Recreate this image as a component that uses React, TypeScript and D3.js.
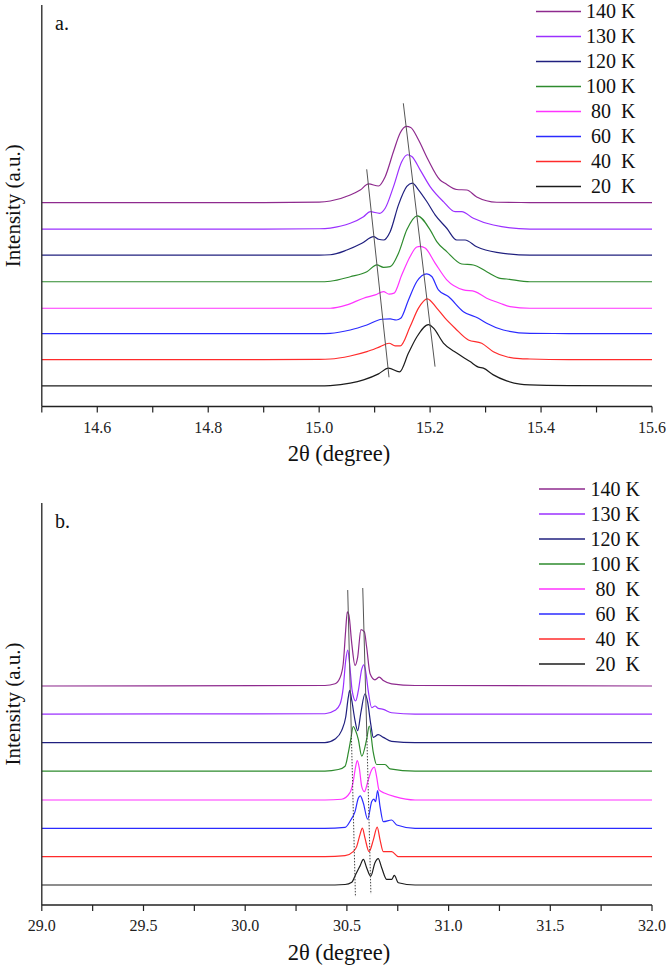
import React from "react";
import * as d3 from "d3";

type Pt = [number, number];

// Temperatures (bottom curve first) and colours
const temps = ["20  K", "40  K", "60  K", "80  K", "100 K", "120 K", "130 K", "140 K"];
const colors = ["#1c1c1c", "#ff2b2b", "#2b2bff", "#ff33ff", "#2e8b2e", "#20207f", "#9b30ff", "#8e2a8e"];

// ---------- Panel a (14.5 - 15.6 deg) ----------
const aTicks = [14.5, 14.6, 14.7, 14.8, 14.9, 15.0, 15.1, 15.2, 15.3, 15.4, 15.5, 15.6];
const aLabels = [14.6, 14.8, 15.0, 15.2, 15.4, 15.6];
const aOffsets = [20.5, 46.8, 72.7, 97.9, 124.3, 150.9, 176.8, 203.2];

const a20K: Pt[] = [[14.5,0],[14.9,0],[15.0,0],[15.020,0.3],[15.056,2.7],[15.080,6],[15.107,12],[15.125,17.7],[15.145,14],[15.161,32.7],[15.176,48.7],[15.197,61],[15.206,57.7],[15.224,42.7],[15.248,32.7],[15.272,24.3],[15.287,18.7],[15.296,17.7],[15.314,11],[15.338,5],[15.362,1.7],[15.380,1],[15.45,0.3],[15.6,0]];
const a40K: Pt[] = [[14.5,0],[14.9,0],[15.0,0.2],[15.020,0.5],[15.056,3.5],[15.086,7.8],[15.110,12.8],[15.126,16.2],[15.137,13.5],[15.146,13.5],[15.164,32.8],[15.179,51.2],[15.195,60.5],[15.212,51.2],[15.227,41.2],[15.245,31.2],[15.269,19.5],[15.293,16.2],[15.314,7.8],[15.338,2.8],[15.362,0.8],[15.380,0.5],[15.45,0],[15.6,0]];
const a60K: Pt[] = [[14.5,0],[14.9,0],[15.0,0],[15.020,0.2],[15.056,3.5],[15.086,8.5],[15.113,14.2],[15.128,14.5],[15.139,13.5],[15.147,15.2],[15.161,33.5],[15.176,51.8],[15.194,59.5],[15.203,56.8],[15.215,43.5],[15.233,36.8],[15.260,21.8],[15.287,15.2],[15.302,10.2],[15.332,3.5],[15.380,0.2],[15.45,0],[15.6,0]];
const a80K: Pt[] = [[14.5,0],[14.9,0],[15.0,0],[15.020,0],[15.050,3.3],[15.080,10],[15.101,13.3],[15.116,16.6],[15.126,14],[15.135,15],[15.149,33.3],[15.164,51.6],[15.176,61],[15.182,61.6],[15.191,60],[15.209,45],[15.230,28.3],[15.260,18.3],[15.281,16.6],[15.302,10],[15.326,5],[15.344,1.6],[15.380,0],[15.6,0]];
const a100K: Pt[] = [[14.5,0],[14.9,0],[15.0,0],[15.020,0.5],[15.056,5],[15.086,10],[15.104,16.7],[15.116,14.4],[15.128,15],[15.143,28.4],[15.158,51.7],[15.177,65.7],[15.200,51.7],[15.212,40],[15.230,30],[15.257,17.7],[15.278,16.7],[15.302,10],[15.326,3.4],[15.338,2.7],[15.380,0],[15.6,0]];
const a120K: Pt[] = [[14.5,0],[14.9,0],[15.0,0],[15.020,0.3],[15.050,5],[15.077,11.7],[15.098,18.3],[15.107,15.7],[15.116,15],[15.128,23.3],[15.143,50],[15.158,68.3],[15.168,71.7],[15.179,65],[15.194,53.3],[15.209,40],[15.230,26.7],[15.248,15],[15.263,15],[15.284,8.3],[15.320,2.7],[15.380,0],[15.6,0]];
const a130K: Pt[] = [[14.5,0],[14.9,0],[15.0,0.3],[15.020,1],[15.056,5.7],[15.080,12.3],[15.092,17.3],[15.109,15.7],[15.119,20.7],[15.134,42.3],[15.149,67.3],[15.159,74],[15.167,72.3],[15.182,59],[15.200,42.3],[15.224,27.3],[15.245,17.3],[15.257,17.3],[15.278,10.7],[15.314,4],[15.380,0],[15.6,0]];
const a140K: Pt[] = [[14.5,0],[14.9,0],[15.0,0.5],[15.020,1.5],[15.056,7.5],[15.074,12.5],[15.089,18.5],[15.107,16.5],[15.119,25.8],[15.134,50.8],[15.146,69.2],[15.157,75.8],[15.165,74.8],[15.179,62.5],[15.195,44.2],[15.218,22.5],[15.227,19.2],[15.248,13],[15.266,12.5],[15.284,5.5],[15.320,0.3],[15.380,0],[15.6,0]];
const aSeries = [a20K, a40K, a60K, a80K, a100K, a120K, a130K, a140K];

const aGuideLeft: Pt[] = [[15.0857, 236.3], [15.1259, 29.1]];
const aGuideRight: Pt[] = [[15.1517, 302.1], [15.2089, 39.7]];

// ---------- Panel b (29.0 - 32.0 deg) ----------
const bTicks = [29.0, 29.25, 29.5, 29.75, 30.0, 30.25, 30.5, 30.75, 31.0, 31.25, 31.5, 31.75, 32.0];
const bLabels = [29.0, 29.5, 30.0, 30.5, 31.0, 31.5, 32.0];
const bOffsets = [19.9, 48.1, 76.3, 104.5, 133.3, 161.5, 190.0, 217.9];

const b20K: Pt[] = [[29,0],[30.3,0],[30.392,0],[30.491,0.5],[30.524,2.8],[30.543,10.5],[30.564,18.8],[30.581,25.5],[30.597,17.2],[30.617,8.8],[30.638,22.2],[30.654,26.2],[30.671,17.2],[30.696,5.5],[30.720,5.5],[30.733,9.5],[30.753,2.2],[30.835,0],[32,0]];
const b40K: Pt[] = [[29,0],[30.392,0],[30.491,1],[30.531,5],[30.548,10],[30.564,21.7],[30.576,28.4],[30.589,18.4],[30.609,5],[30.630,16.7],[30.649,29.4],[30.663,16.7],[30.679,5],[30.720,5],[30.753,0],[32,0]];
const b60K: Pt[] = [[29,0],[30.392,0],[30.491,1],[30.519,8.3],[30.540,16.6],[30.556,30],[30.566,32.3],[30.581,25],[30.602,9],[30.622,26.6],[30.633,29],[30.641,26.6],[30.651,37.6],[30.663,21.6],[30.679,6.6],[30.720,8.3],[30.745,3.3],[30.835,0],[32,0]];
const b80K: Pt[] = [[29,0],[30.392,0],[30.474,0.7],[30.515,7.3],[30.531,18.3],[30.543,33.3],[30.551,39.3],[30.561,31.7],[30.573,13.3],[30.586,8.3],[30.605,20],[30.622,30],[30.635,32.7],[30.646,23.3],[30.658,10],[30.687,6.7],[30.736,3.3],[30.835,0],[32,0]];
const b100K: Pt[] = [[29,0],[30.392,0],[30.458,1.5],[30.491,4.8],[30.507,18.2],[30.519,31.5],[30.531,44.3],[30.543,40],[30.556,31.5],[30.573,14.8],[30.597,31.5],[30.610,44.8],[30.630,18.2],[30.646,6.5],[30.687,6.5],[30.712,2.2],[30.835,0],[32,0]];
const b120K: Pt[] = [[29,0],[30.392,0],[30.442,3.7],[30.474,12],[30.494,25.3],[30.507,45.3],[30.514,52],[30.524,42],[30.540,22],[30.553,12],[30.569,30.3],[30.589,48.7],[30.602,40.3],[30.617,18.7],[30.630,5.3],[30.654,8],[30.679,5.3],[30.720,1.3],[30.835,0],[32,0]];
const b130K: Pt[] = [[29,0],[30.392,0.3],[30.442,3.7],[30.466,9.7],[30.482,26.3],[30.494,53],[30.504,63.7],[30.515,46.3],[30.526,23],[30.543,13],[30.556,23],[30.573,44.7],[30.583,49],[30.592,43],[30.605,23],[30.622,6.3],[30.638,8],[30.654,5.7],[30.679,4.7],[30.720,1.3],[30.835,0],[32,0]];
const b140K: Pt[] = [[29,0],[30.392,0.5],[30.442,2.2],[30.466,8.2],[30.482,22.2],[30.494,55.5],[30.502,73.8],[30.510,70.5],[30.524,42.2],[30.540,20.5],[30.553,28.8],[30.569,56.2],[30.586,53.8],[30.597,38.8],[30.614,12.2],[30.638,6.2],[30.659,8.8],[30.679,5.5],[30.720,2.2],[30.835,0.5],[32,0]];
const bSeries = [b20K, b40K, b60K, b80K, b100K, b120K, b130K, b140K];

const bGuideLeftSolid: Pt[] = [[30.504, 313.4], [30.522, 169.2]];
const bGuideLeftDot: Pt[] = [[30.522, 169.2], [30.542, 8.0]];
const bGuideRightSolid: Pt[] = [[30.578, 315.4], [30.598, 169.2]];
const bGuideRightDot: Pt[] = [[30.598, 169.2], [30.618, 10.9]];

const FONT = '"Liberation Serif", "DejaVu Serif", serif';
const txt = (size: number): React.CSSProperties => ({ fontFamily: FONT, fontSize: size });

type PanelProps = {
  domain: [number, number];
  ticks: number[];
  labels: number[];
  offsets: number[];
  series: Pt[][];
  top: number;
  bottom: number;
  letter: string;
  solidGuides: Pt[][];
  dotGuides: Pt[][];
  legendTop: number;
  legendX0: number;
  legendX1: number;
  legendTextX: number;
};

function Panel(p: PanelProps) {
  const left = 41.8;
  const right = 652;
  const x = d3.scaleLinear().domain(p.domain).range([left, right]);
  const y = d3.scaleLinear().domain([0, 400]).range([p.bottom, p.top]);
  const line = d3
    .line<Pt>()
    .x((d) => x(d[0]))
    .y((d) => y(d[1]))
    .curve(d3.curveMonotoneX);
  const seg = d3
    .line<Pt>()
    .x((d) => x(d[0]))
    .y((d) => y(d[1]));
  const midY = (p.top + p.bottom) / 2;
  const legendOrder = d3.range(temps.length).reverse();
  return (
    <g>
      {p.series.map((s, i) => (
        <path
          key={i}
          d={line(s.map((d) => [d[0], d[1] + p.offsets[i]] as Pt)) || ""}
          fill="none"
          stroke={colors[i]}
          strokeWidth={1.2}
          strokeLinejoin="round"
        />
      ))}
      {p.solidGuides.map((g, i) => (
        <path key={"s" + i} d={seg(g) || ""} stroke="#555" strokeWidth={1} fill="none" />
      ))}
      {p.dotGuides.map((g, i) => (
        <path key={"d" + i} d={seg(g) || ""} stroke="#444" strokeWidth={1} strokeDasharray="1.5,1.5" fill="none" />
      ))}
      <line x1={left} x2={left} y1={p.top} y2={p.bottom} stroke="#222" strokeWidth={1.3} />
      <line x1={left} x2={right} y1={p.bottom} y2={p.bottom} stroke="#222" strokeWidth={1.3} />
      {p.ticks.map((t, i) => (
        <line key={i} x1={x(t)} x2={x(t)} y1={p.bottom} y2={p.bottom + 6} stroke="#222" strokeWidth={1.2} />
      ))}
      {p.labels.map((t, i) => (
        <text key={i} x={x(t)} y={p.bottom + 26} textAnchor="middle" style={txt(16)} fill="#222">
          {t.toFixed(1)}
        </text>
      ))}
      <text x={339} y={p.bottom + 54.5} textAnchor="middle" style={txt(22.5)} fill="#111">
        2θ (degree)
      </text>
      <text transform={`translate(20,${midY}) rotate(-90)`} textAnchor="middle" style={txt(21)} fill="#111">
        Intensity (a.u.)
      </text>
      <text x={55} y={p.top + 25} style={txt(20)} fill="#111">
        {p.letter}
      </text>
      {legendOrder.map((idx, r) => {
        const cy = p.legendTop + r * 25;
        return (
          <g key={idx}>
            <line x1={p.legendX0} x2={p.legendX1} y1={cy} y2={cy} stroke={colors[idx]} strokeWidth={1.6} />
            <text
              x={p.legendTextX}
              y={cy + 6.8}
              textAnchor="end"
              style={{ ...txt(20), whiteSpace: "pre" }}
              fill="#111"
            >
              {temps[idx]}
            </text>
          </g>
        );
      })}
    </g>
  );
}

export default function App() {
  return (
    <svg
      width={666}
      height={968}
      viewBox="0 0 666 968"
      style={{ position: "absolute", left: 0, top: 0, background: "#fff" }}
    >
      <rect width={666} height={968} fill="#fff" />
      <Panel
        domain={[14.5, 15.6]}
        ticks={aTicks}
        labels={aLabels}
        offsets={aOffsets}
        series={aSeries}
        top={5}
        bottom={406.5}
        letter="a."
        solidGuides={[aGuideLeft, aGuideRight]}
        dotGuides={[]}
        legendTop={11.5}
        legendX0={536}
        legendX1={581}
        legendTextX={635.5}
      />
      <Panel
        domain={[29.0, 32.0]}
        ticks={bTicks}
        labels={bLabels}
        offsets={bOffsets}
        series={bSeries}
        top={503}
        bottom={905}
        letter="b."
        solidGuides={[bGuideLeftSolid, bGuideRightSolid]}
        dotGuides={[bGuideLeftDot, bGuideRightDot]}
        legendTop={489}
        legendX0={539}
        legendX1={585}
        legendTextX={640}
      />
    </svg>
  );
}
